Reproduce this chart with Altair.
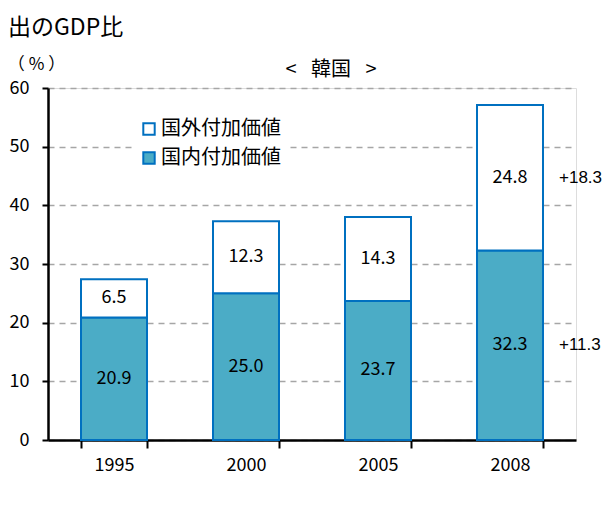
import altair as alt
import pandas as pd

years = ["1995", "2000", "2005", "2008"]
domestic = [20.9, 25.0, 23.7, 32.3]
foreign = [6.5, 12.3, 14.3, 24.8]
series = ["国外付加価値", "国内付加価値"]
diff_labels = ["+11.3", "+18.3"]  # domestic, foreign change 1995->2008
y_ticks = [0, 10, 20, 30, 40, 50, 60]
panel_title = "< \u2002韓国\u2002 >"
header_text = "出のGDP比"

FONT = "Noto Sans CJK JP"
rows = []
for i, yr in enumerate(years):
    rows.append({"year": yr, "type": series[1], "value": domestic[i], "ord": 0,
                 "mid": domestic[i] / 2, "label": f"{domestic[i]:.1f}"})
    rows.append({"year": yr, "type": series[0], "value": foreign[i], "ord": 1,
                 "mid": domestic[i] + foreign[i] / 2, "label": f"{foreign[i]:.1f}"})
df = pd.DataFrame(rows)

last = len(years) - 1
notes = pd.DataFrame({
    "year": [years[last], years[last]],
    "mid": [domestic[last] / 2, domestic[last] + foreign[last] / 2],
    "label": diff_labels,
})
header = pd.DataFrame({"t": [header_text]})
ptitle = pd.DataFrame({"t": [panel_title]})

xenc = alt.X("year:N", sort=years,
             scale=alt.Scale(paddingInner=0.5, paddingOuter=0.25),
             axis=alt.Axis(title=None, labelAngle=0, labelFontSize=18, labelFont=FONT,
                           labelColor="black", tickBand="extent", tickSize=8,
                           tickWidth=2, tickColor="black", labelPadding=8,
                           domainColor="black", domainWidth=2.5, grid=False))
yscale = alt.Scale(domain=[0, 60], nice=False)

bars = alt.Chart(df).mark_bar(stroke="#0070C0", strokeWidth=2).encode(
    x=xenc,
    y=alt.Y("value:Q", stack="zero", scale=yscale,
            axis=alt.Axis(values=y_ticks, title="（ % ）", titleAngle=0, titleFont=FONT,
                          titleFontSize=17, titleFontWeight="normal", titleColor="black",
                          titleX=-12, titleY=-24, titleAlign="center", titleBaseline="middle",
                          labelFontSize=18, labelFont=FONT, labelColor="black",
                          labelPadding=13, tickSize=6, tickWidth=2, tickColor="black",
                          domainColor="black", domainWidth=2.5,
                          grid=True, gridColor="#A6A6A6", gridDash=[6, 5], gridWidth=1.5)),
    color=alt.Color("type:N",
                    scale=alt.Scale(domain=series, range=["#FFFFFF", "#4BACC6"]),
                    legend=alt.Legend(title=None, orient="none", legendX=85, legendY=25,
                                      fillColor="white", padding=6, symbolType="square",
                                      symbolSize=130, symbolStrokeColor="#0070C0",
                                      symbolStrokeWidth=2, labelFontSize=20, labelFont=FONT,
                                      labelColor="black", labelLimit=300, rowPadding=9,
                                      labelOffset=2)),
    order=alt.Order("ord:Q"),
)

labels = alt.Chart(df).mark_text(fontSize=18, font=FONT, color="black").encode(
    x=alt.X("year:N", sort=years),
    y=alt.Y("mid:Q", scale=yscale),
    text="label:N",
)

side = alt.Chart(notes).mark_text(fontSize=17, font="Liberation Sans",
                                   color="black", align="left", dx=49).encode(
    x=alt.X("year:N", sort=years),
    y=alt.Y("mid:Q", scale=yscale),
    text="label:N",
)

head = alt.Chart(header).mark_text(fontSize=23, font=FONT, color="black",
                                   align="left", baseline="middle").encode(
    x=alt.value(-40), y=alt.value(-60), text="t:N")

ttl = alt.Chart(ptitle).mark_text(fontSize=20, font=FONT, color="black",
                                  align="center", baseline="middle").encode(
    x=alt.value(283), y=alt.value(-18), text="t:N")

chart = alt.layer(bars, labels, side, head, ttl).properties(
    width=528, height=352,
    autosize=alt.AutoSizeParams(type="none"),
    padding={"left": 40, "top": 80, "right": 26, "bottom": 57},
).configure_view(stroke=None).configure(background="white")

chart.save("out.html", embed_options={"renderer": "svg", "actions": False})
